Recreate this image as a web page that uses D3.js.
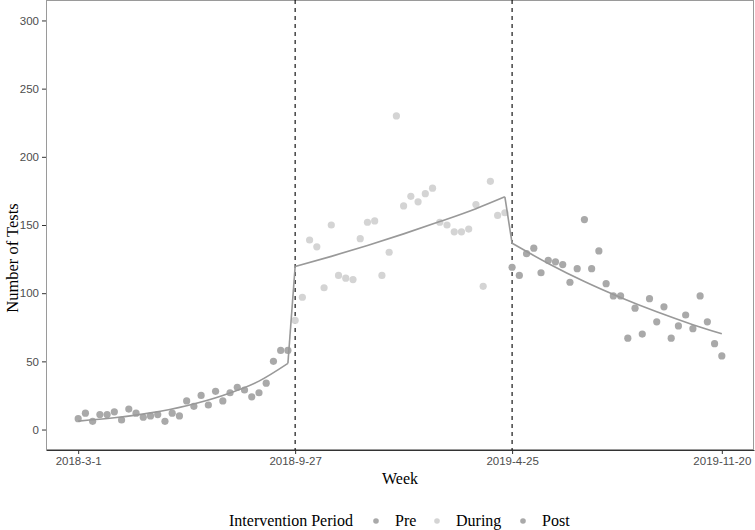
<!DOCTYPE html>
<html>
<head>
<meta charset="utf-8">
<script src="https://cdn.jsdelivr.net/npm/d3@7"></script>
<style>
    body { margin: 0; background: #fff; }
    svg { display: block; }
</style>
</head>
<body>
<svg id="chart" width="755" height="530"></svg>
<script>
'use strict';

// weekly counts, week 0 = 2018-3-1
var preCounts = [8, 12, 6, 11, 11, 13, 7, 15, 12, 9, 10, 11, 6, 12, 10, 21, 17, 25, 18, 28,
    21, 27, 31, 29, 24, 27, 34, 50, 58, 58];
var duringCounts = [80, 97, 139, 134, 104, 150, 113, 111, 110, 140, 152, 153, 113, 130, 230,
    164, 171, 167, 173, 177, 152, 150, 145, 145, 147, 165, 105, 182, 157, 159];
var postCounts = [119, 113, 129, 133, 115, 124, 123, 121, 108, 118, 154, 118, 131, 107, 98,
    98, 67, 89, 70, 96, 79, 90, 67, 76, 84, 74, 98, 79, 63, 54];

var periods = ['Pre', 'During', 'Post'];
var periodStart = [0, 30, 60];

// fitted trend at a few weeks
var fitWeeks = [[0, 5, 10, 15, 20, 25, 29], [30, 35, 40, 45, 50, 55, 59], [60, 65, 70, 75, 80, 85, 89]];
var fitValues = [[6.2, 8.6, 12.2, 17.5, 25, 35.5, 48.5],
    [119.5, 127, 135, 143.5, 152.5, 162, 170.7],
    [136.6, 121.8, 108.5, 96.8, 86.3, 76.9, 70.2]];

var tickWeeks = [0, 30, 60, 89];
var tickLabels = ['2018-3-1', '2018-9-27', '2019-4-25', '2019-11-20'];
var yTicks = [0, 50, 100, 150, 200, 250, 300];
var breakWeeks = [30, 60];

var colors = {Pre: '#a9a9a9', During: '#d4d4d4', Post: '#a9a9a9'};

var svg = d3.select('#chart');
var panel = {left: 46, right: 754, top: 0, bottom: 450};

var x = d3.scaleLinear().domain([-4.45, 93.45]).range([panel.left, panel.right]);
var y = d3.scaleLinear().domain([-15, 315]).range([panel.bottom, panel.top]);

var points = [];
[preCounts, duringCounts, postCounts].forEach(function(arr, i) {
    arr.forEach(function(v, j) {
        points.push({week: periodStart[i] + j, value: v, period: periods[i]});
    });
});

// panel border
svg.append('rect')
    .attr('x', panel.left + 0.5).attr('y', panel.top + 0.5)
    .attr('width', panel.right - panel.left - 1).attr('height', panel.bottom - panel.top - 1)
    .attr('fill', 'none').attr('stroke', '#9a9a9a').attr('stroke-width', 1);

// axes
var xAxis = svg.append('g')
    .attr('transform', 'translate(0,' + panel.bottom + ')')
    .call(d3.axisBottom(x).tickValues(tickWeeks)
        .tickFormat(function(d, i) { return tickLabels[i]; })
        .tickSizeOuter(0).tickSizeInner(4).tickPadding(3));

var yAxis = svg.append('g')
    .attr('transform', 'translate(' + panel.left + ',0)')
    .call(d3.axisLeft(y).tickValues(yTicks).tickSizeOuter(0).tickSizeInner(4).tickPadding(3));

[xAxis, yAxis].forEach(function(g) {
    g.selectAll('text')
        .attr('fill', '#4d4d4d')
        .style('font-family', '"Liberation Sans", Arial, sans-serif')
        .style('font-size', '11.5px');
    g.selectAll('.tick line').attr('stroke', '#333');
});
xAxis.select('.domain').attr('stroke', '#333');
yAxis.select('.domain').attr('stroke', '#9a9a9a');

// intervention breaks
svg.selectAll('line.break')
    .data(breakWeeks)
    .enter().append('line')
    .attr('class', 'break')
    .attr('x1', function(d) { return x(d); })
    .attr('x2', function(d) { return x(d); })
    .attr('y1', panel.top)
    .attr('y2', panel.bottom)
    .attr('stroke', '#000')
    .attr('stroke-width', 1.1)
    .attr('stroke-dasharray', '4,4');

// points
svg.append('g').selectAll('circle')
    .data(points)
    .enter().append('circle')
    .attr('cx', function(d) { return x(d.week); })
    .attr('cy', function(d) { return y(d.value); })
    .attr('r', 3.6)
    .attr('fill', function(d) { return colors[d.period]; });

// trend line
var curve = d3.line()
    .x(function(d) { return x(d[0]); })
    .y(function(d) { return y(d[1]); })
    .curve(d3.curveMonotoneX);

var trend = svg.append('g')
    .attr('fill', 'none')
    .attr('stroke', '#999')
    .attr('stroke-width', 1.6);

fitWeeks.forEach(function(ws, i) {
    var seg = ws.map(function(w, j) { return [w, fitValues[i][j]]; });
    trend.append('path').attr('d', curve(seg));
    if(i > 0) {
        var prev = fitWeeks[i - 1];
        var last = [prev[prev.length - 1], fitValues[i - 1][prev.length - 1]];
        trend.append('path').attr('d', d3.line()([[x(last[0]), y(last[1])], [x(ws[0]), y(fitValues[i][0])]]));
    }
});

// axis titles
svg.append('text')
    .attr('x', (panel.left + panel.right) / 2)
    .attr('y', 484)
    .attr('text-anchor', 'middle')
    .style('font-family', '"Liberation Serif", "Times New Roman", serif')
    .style('font-size', '16px')
    .text('Week');

svg.append('text')
    .attr('transform', 'translate(18,258) rotate(-90)')
    .attr('text-anchor', 'middle')
    .style('font-family', '"Liberation Serif", "Times New Roman", serif')
    .style('font-size', '16.5px')
    .text('Number of Tests');

// legend
var legend = svg.append('g')
    .attr('transform', 'translate(229,526)')
    .style('font-family', '"Liberation Serif", "Times New Roman", serif')
    .style('font-size', '16px');

legend.append('text').attr('x', 0).attr('y', 0).text('Intervention Period');

var legendX = [147, 208, 294];
periods.forEach(function(p, i) {
    legend.append('circle')
        .attr('cx', legendX[i]).attr('cy', -5)
        .attr('r', 2.8)
        .attr('fill', colors[p]);
    legend.append('text')
        .attr('x', legendX[i] + 19).attr('y', 0)
        .text(p);
});
</script>
</body>
</html>
